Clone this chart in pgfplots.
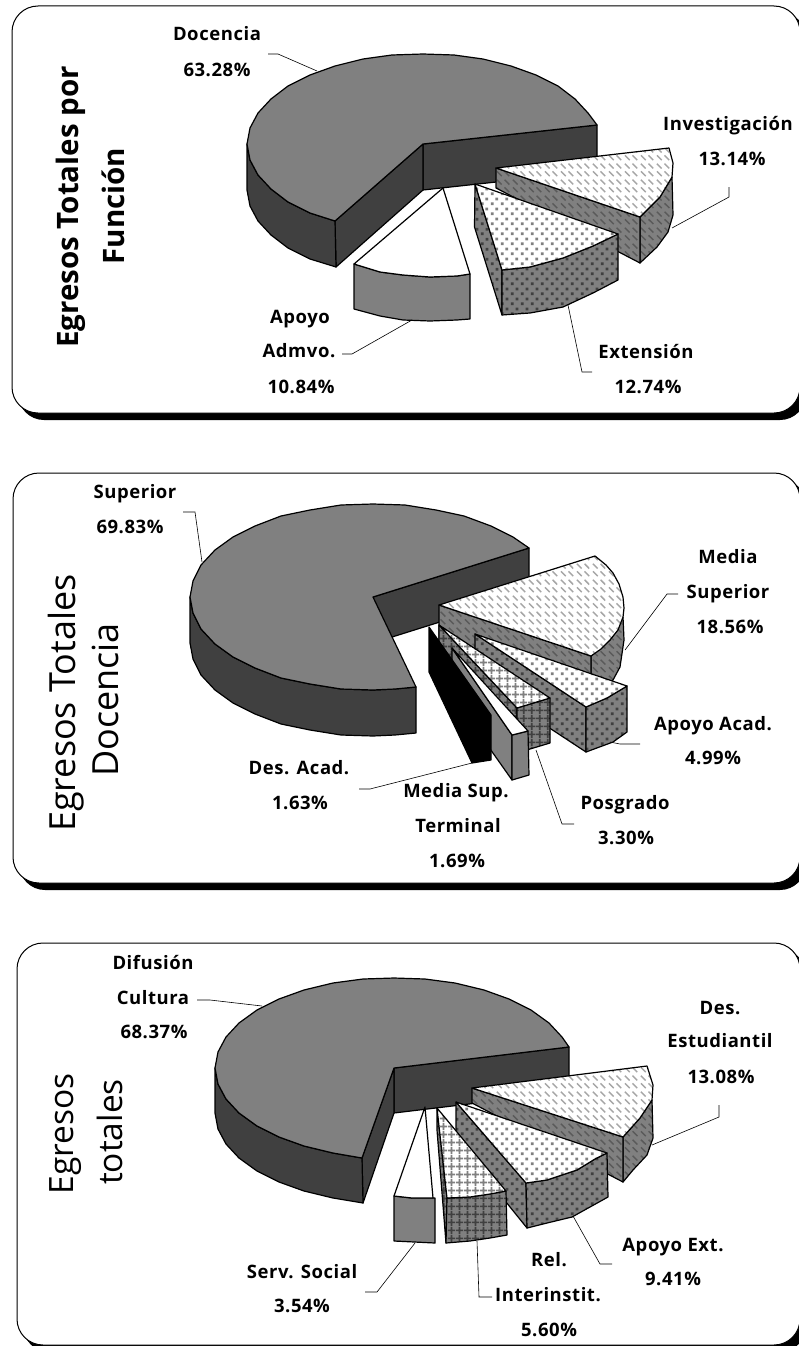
\documentclass[border=0pt]{standalone}
\usepackage{fontspec}
\setmainfont[LetterSpace=3]{Open Sans}
\newfontfamily\titlefont{Open Sans}
\usepackage{pgfplots}
\pgfplotsset{compat=1.18}
\usetikzlibrary{patterns}
\definecolor{gtop}{HTML}{808080}
\definecolor{gdark}{HTML}{404040}
\pgfdeclarepatternformonly{rdots}{\pgfqpoint{0pt}{0pt}}{\pgfqpoint{10pt}{10pt}}{\pgfqpoint{10pt}{10pt}}{%
  \pgfpathrectangle{\pgfqpoint{1pt}{1pt}}{\pgfqpoint{3pt}{3pt}}%
  \pgfpathrectangle{\pgfqpoint{6pt}{6pt}}{\pgfqpoint{3pt}{3pt}}%
  \pgfusepath{fill}}
\pgfdeclarepatternformonly{rhatch}{\pgfqpoint{0pt}{0pt}}{\pgfqpoint{16pt}{16pt}}{\pgfqpoint{16pt}{16pt}}{%
  \pgfsetlinewidth{1.5pt}%
  \pgfpathmoveto{\pgfqpoint{1pt}{15pt}}\pgfpathlineto{\pgfqpoint{6pt}{10pt}}%
  \pgfpathmoveto{\pgfqpoint{9pt}{7pt}}\pgfpathlineto{\pgfqpoint{14pt}{2pt}}%
  \pgfpathmoveto{\pgfqpoint{9pt}{15pt}}\pgfpathlineto{\pgfqpoint{14pt}{10pt}}%
  \pgfpathmoveto{\pgfqpoint{1pt}{7pt}}\pgfpathlineto{\pgfqpoint{6pt}{2pt}}%
  \pgfusepath{stroke}}
\pgfdeclarepatternformonly{rgrid}{\pgfqpoint{0pt}{0pt}}{\pgfqpoint{8pt}{8pt}}{\pgfqpoint{8pt}{8pt}}{%
  \pgfsetlinewidth{1.9pt}%
  \pgfpathmoveto{\pgfqpoint{4pt}{0pt}}\pgfpathlineto{\pgfqpoint{4pt}{8pt}}%
  \pgfpathmoveto{\pgfqpoint{0pt}{4pt}}\pgfpathlineto{\pgfqpoint{8pt}{4pt}}%
  \pgfusepath{stroke}}
% #1 fill colour, #2 pattern, #3 pattern colour, #4 coordinates
\newcommand\pf[4]{%
  \addplot[draw=none,fill=#1] coordinates {#4} -- cycle;
  \addplot[draw=black,line width=1.2pt,line join=round,pattern=#2,pattern color=#3] coordinates {#4} -- cycle;}
\newcommand\sfl[2]{\addplot[draw=black,line width=1.2pt,line join=round,fill=#1] coordinates {#2} -- cycle;}
\newcommand\ld[1]{\addplot[draw=black,line width=0.6pt] coordinates {#1};}
\newcommand\panel[1]{%
  \addplot[draw=black,line width=1pt,fill=white,rounded corners=26pt] coordinates {#1} -- cycle;}
\newcommand\shadow[1]{%
  \addplot[draw=none,fill=black,rounded corners=26pt] coordinates {#1} -- cycle;}
\newcommand\lb[3]{\node[anchor=base,font=\fontsize{18.5}{20}\selectfont\bfseries,inner sep=0pt] at (axis cs:#1,#2) {#3};}
\begin{document}
\begin{tikzpicture}
\begin{axis}[scale only axis,width=799pt,height=1346pt,xmin=0,xmax=799,ymin=0,ymax=1346,y dir=reverse,hide axis,clip=true]
\addplot[draw=none] coordinates {(0,0) (799,1346)};
% ---- panels
\shadow{(18,12) (806,12) (806,420) (18,420)}
\panel{(12,6) (800,6) (800,413) (12,413)}
\shadow{(19,479) (806,479) (806,890) (19,890)}
\panel{(13,473) (800,473) (800,883) (13,883)}
\shadow{(23,949) (806,949) (806,1352) (23,1352)}
\panel{(17,943) (800,943) (800,1345) (17,1345)}

% ---- Pie 1
\sfl{gdark}{(423,144) (597,125) (597,171) (423,190)}
\sfl{gdark}{(423,144) (335,221) (336,267) (423,190)}
\sfl{gdark}{(247,144) (250,160) (258,175) (271,189) (288,202) (310,213) (335,221) (336,267) (310,259) (288,248) (271,235) (258,221) (250,206) (247,190)}
\sfl{gtop}{(423,144) (597,125) (588,113) (575,99) (558,86) (536,75) (511,66) (483,59) (454,55) (423,54) (392,55) (363,59) (335,66) (310,75) (288,86) (271,99) (258,113) (250,128) (247,144) (250,160) (258,175) (271,189) (288,202) (310,213) (335,221)}
% Apoyo Admvo
\sfl{gtop}{(354,264) (380,272) (403,275) (430,277) (457,276) (470,274) (470,319) (457,320) (430,321) (403,320) (380,316) (354,309)}
\sfl{white}{(443,188) (354,264) (380,272) (403,275) (430,277) (457,276) (470,274)}
% Investigacion
\pf{gtop}{rhatch}{gdark!60!gtop}{(640,217) (660,197) (672,177) (673,215) (668,232) (657,247) (640,263)}
\pf{gtop}{rhatch}{gdark!60!gtop}{(496,168) (640,217) (640,263) (496,188)}
\pf{white}{rhatch}{black!35}{(496,168) (669,148) (673,163) (672,177) (660,197) (640,217)}
% Extension
\pf{gtop}{rdots}{gdark}{(475,184) (502,270) (502,315) (474.5,227)}
\pf{gtop}{rdots}{gdark}{(502,270) (530,267) (563,258) (593,246) (618,234) (618,280) (593,293) (563,307) (530,313) (502,315)}
\pf{white}{rdots}{gtop}{(475,184) (618,234) (593,246) (563,258) (530,267) (502,270)}
% leaders
\ld{(268,54) (278,54) (317,71)}
\ld{(672,228) (729,197) (729,187)}
\ld{(568,305) (582,372) (592,372)}
\ld{(412,320) (352,354) (342,354)}
\lb{217}{41}{Docencia}
\lb{217}{76}{63.28\%}
\lb{300}{323}{Apoyo}
\lb{299}{357}{Admvo.}
\lb{301}{393}{10.84\%}
\lb{728}{130}{Investigación}
\lb{732}{165}{13.14\%}
\lb{646}{358}{Extensión}
\lb{648}{393}{12.74\%}
\node[rotate=90,anchor=base,font=\titlefont\fontsize{29.5}{32}\selectfont\bfseries,inner sep=0pt] at (axis cs:78,207) {Egresos Totales por};
\node[rotate=90,anchor=base,font=\titlefont\fontsize{29.5}{32}\selectfont\bfseries,inner sep=0pt] at (axis cs:124,206) {Función};

% ---- Pie 2
\sfl{gdark}{(373,597) (529,548) (529,594) (373,643)}
\sfl{gdark}{(190,597) (193,613) (201,629) (215,644) (233,657) (255,668) (281,678) (310,684) (341,689) (373,690) (395,689) (416,687) (416,733) (395,735) (373,736) (341,735) (310,730) (281,724) (255,714) (233,703) (215,690) (201,675) (193,659) (190,643)}
\sfl{gtop}{(373,597) (529,548) (513,537) (491,526) (464,516) (436,510) (405,505) (373,504) (341,505) (310,510) (281,516) (255,526) (233,537) (215,550) (201,565) (193,581) (190,597) (193,613) (201,629) (215,644) (233,657) (255,668) (281,678) (310,684) (341,689) (373,690) (395,689) (416,687)}
% Media Superior
\pf{gtop}{rhatch}{gdark!60!gtop}{(591,656) (610,640) (623,617) (624,640) (620,667) (613,680) (591,702)}
\pf{gtop}{rhatch}{gdark!60!gtop}{(439,605) (591,656) (591,702) (439,650)}
\pf{white}{rhatch}{black!35}{(439,605) (595,556) (606,565) (613,573) (619,584) (623,597) (624,608) (623,617) (618,630) (610,640) (601,649) (591,656)}
% Apoyo Acad
\pf{gtop}{rdots}{gdark}{(475,634) (586,707) (586,752) (475,679)}
\pf{gtop}{rdots}{gdark}{(586,707) (607,698) (627,686) (627,732) (613,742) (586,752)}
\pf{white}{rdots}{gtop}{(475,634) (627,686) (607,698) (586,707)}
% Posgrado
\pf{gtop}{rgrid}{gdark}{(439,625) (517,708) (517,753) (439,670)}
\pf{gtop}{rgrid}{gdark}{(517,708) (550,698) (550,743) (530,749) (517,753)}
\pf{white}{rgrid}{gtop}{(439,625) (550,698) (517,708)}
% Media Sup. Terminal
\sfl{gtop}{(452,648) (512,735) (512,780) (452,695)}
\sfl{gtop}{(512,735) (528,731) (529,775) (512,780)}
\sfl{white}{(452,648) (528,731) (512,735)}
% Des. Acad. (in front)
\sfl{black}{(429,627) (491,715) (491,760) (472,763) (429,672)}
% leaders
\ld{(183,512) (195,512) (202,562)}
\ld{(625,650) (667,594) (678,594)}
\ld{(610,742) (620,744) (640,744)}
\ld{(472,763) (370,789) (359,789)}
\ld{(536,750) (562,824) (574,824)}
\lb{135}{498}{Superior}
\lb{130}{533}{69.83\%}
\lb{728}{563}{Media}
\lb{728}{598}{Superior}
\lb{730}{633}{18.56\%}
\lb{713}{730}{Apoyo Acad.}
\lb{713}{764}{4.99\%}
\lb{299}{774}{Des. Acad.}
\lb{300}{809}{1.63\%}
\lb{456}{797}{Media Sup.}
\lb{458}{832}{Terminal}
\lb{457}{867}{1.69\%}
\lb{625}{809}{Posgrado}
\lb{626}{844}{3.30\%}
\node[rotate=90,anchor=base,font=\titlefont\fontsize{36}{38}\selectfont,inner sep=0pt] at (axis cs:75,703) {Egresos Totales};
\node[rotate=90,anchor=base,font=\titlefont\fontsize{36}{38}\selectfont,inner sep=0pt] at (axis cs:118,700) {Docencia};

% ---- Pie 3
\sfl{gdark}{(394,1068) (569,1047) (569,1092) (394,1113)}
\sfl{gdark}{(394,1068) (362,1158) (363,1203) (394,1113)}
\sfl{gdark}{(215,1068) (218,1084) (226,1099) (239,1113) (257,1126) (279,1137) (304,1146) (333,1153) (362,1158) (363,1203) (333,1198) (304,1191) (279,1182) (257,1171) (239,1158) (226,1144) (218,1129) (215,1113)}
\sfl{gtop}{(394,1068) (569,1047) (562,1037) (549,1023) (531,1010) (509,999) (484,990) (455,983) (425,979) (394,978) (363,979) (333,983) (304,990) (279,999) (257,1010) (239,1023) (226,1037) (218,1052) (215,1068) (218,1084) (226,1099) (239,1113) (257,1126) (279,1137) (304,1146) (333,1153) (362,1158)}
% Serv. Social
\sfl{gtop}{(394,1196) (412,1198) (435,1198) (435,1243) (394,1241)}
\sfl{white}{(425,1107) (394,1196) (412,1198) (433,1198)}
% Des. Estudiantil
\pf{gtop}{rhatch}{gdark!60!gtop}{(623,1137) (640,1118) (652,1100) (653,1138) (647,1155) (633,1170) (623,1182)}
\pf{gtop}{rhatch}{gdark!60!gtop}{(472,1088) (623,1137) (623,1182) (472,1103)}
\pf{white}{rhatch}{black!35}{(472,1088) (647,1066) (653,1085) (652,1100) (640,1118) (623,1137)}
% Apoyo Ext.
\pf{gtop}{rdots}{gdark}{(456,1102) (526,1183) (527,1228) (456,1140)}
\pf{gtop}{rdots}{gdark}{(526,1183) (547,1180) (577,1170) (595,1159) (607,1153) (608,1197) (572,1217) (547,1223) (527,1228)}
\pf{white}{rdots}{gtop}{(456,1102) (607,1153) (595,1159) (577,1170) (547,1180) (526,1183)}
% Rel. Interinstit.
\pf{gtop}{rgrid}{gdark}{(437,1108) (447,1198) (446,1243) (437,1130)}
\pf{gtop}{rgrid}{gdark}{(447,1198) (470,1197) (490,1194) (506,1191) (507,1235) (490,1238) (470,1241) (446,1243)}
\pf{white}{rgrid}{gtop}{(437,1108) (506,1191) (490,1194) (470,1197) (447,1198)}
% leaders
\ld{(197,1000) (210,1000) (262,1006)}
\ld{(652,1145) (719,1117) (719,1105)}
\ld{(573,1216) (600,1264) (612,1264)}
\ld{(477,1241) (479,1297) (492,1297)}
\ld{(415,1243) (377,1292) (365,1292)}
\lb{153}{969}{Difusión}
\lb{153}{1004}{Cultura}
\lb{154}{1038}{68.37\%}
\lb{720}{1014}{Des.}
\lb{720}{1047}{Estudiantil}
\lb{721}{1083}{13.08\%}
\lb{673}{1251}{Apoyo Ext.}
\lb{673}{1285}{9.41\%}
\lb{549}{1266}{Rel.}
\lb{548}{1301}{Interinstit.}
\lb{549}{1336}{5.60\%}
\lb{302}{1278}{Serv. Social}
\lb{302}{1312}{3.54\%}
\node[rotate=90,anchor=base,font=\titlefont\fontsize{33.5}{36}\selectfont,inner sep=0pt] at (axis cs:73,1134) {Egresos};
\node[rotate=90,anchor=base,font=\titlefont\fontsize{33.5}{36}\selectfont,inner sep=0pt] at (axis cs:122,1132) {totales};
\end{axis}
\end{tikzpicture}
\end{document}
